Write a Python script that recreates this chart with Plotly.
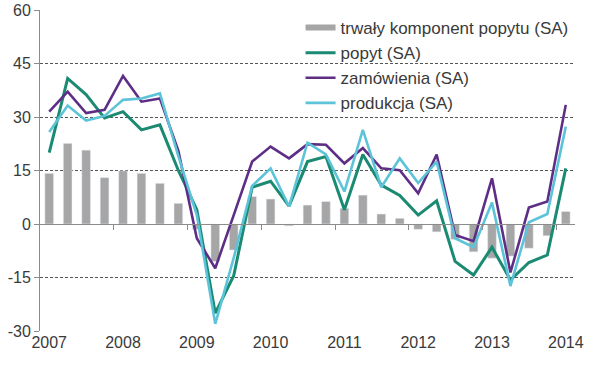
import plotly.graph_objects as go

# 2007Q1 .. 2014Q1
quarters = [f"{y} Q{q}" for y in range(2007, 2015) for q in range(1, 5)][:29]
year_tick_cats = [f"{y} Q1" for y in range(2007, 2015)]
year_labels = ["2007", "2008", "2009", "2010", "2011", "2012", "2013", "2014"]

trwaly = [14.2, 22.6, 20.7, 13.0, 14.9, 14.2, 11.4, 5.8, -1.5, -10.5, -7.3, 7.7, 7.0, -0.5,
          5.3, 6.3, 4.4, 8.1, 2.8, 1.6, -1.5, -2.2, -4.3, -7.8, -9.6, -9.0, -6.8, -3.3, 3.5]
popyt = [20.0, 40.8, 36.3, 29.7, 31.5, 26.4, 27.8, 15.0, 4.0, -25.0, -14.5, 10.3, 12.0, 5.0,
         17.5, 18.9, 4.0, 19.5, 10.9, 8.0, 2.5, 6.5, -10.5, -14.3, -6.5, -15.7, -10.8, -8.7, 15.6]
zamowienia = [31.5, 37.1, 31.1, 32.0, 41.5, 34.3, 35.2, 20.5, -4.0, -12.4, 2.5, 17.5, 21.7, 18.4,
              22.4, 22.2, 17.0, 21.3, 15.6, 15.1, 8.6, 19.5, -3.1, -4.8, 12.8, -13.6, 4.6, 6.3, 33.4]
produkcja = [25.8, 33.2, 29.0, 30.3, 34.8, 35.2, 36.6, 19.0, 2.5, -28.0, -9.5, 10.7, 15.6, 4.9,
             22.8, 19.5, 9.1, 26.4, 10.3, 18.4, 11.5, 17.5, -4.0, -6.5, 6.0, -17.4, 0.5, 2.8, 27.3]

y_ticks = [-30, -15, 0, 15, 30, 45, 60]
y_labels = ["-30", "-15", "0", "15", "30", "45", "60"]

names = ["trwały komponent popytu (SA)", "popyt (SA)", "zamówienia (SA)", "produkcja (SA)"]

C_BAR = "#a6a6a6"
C_POP = "#1b8a72"
C_ZAM = "#5e2e86"
C_PRO = "#5cc3d9"
TXT = "#3a3a3a"
FONT = "Liberation Sans, Arial, sans-serif"

n = len(quarters)
boundaries = [i - 0.5 for i in range(4, n, 4)]

fig = go.Figure()
fig.add_trace(go.Bar(x=quarters, y=trwaly, marker_color=C_BAR, width=0.47,
                     showlegend=False, name=names[0]))
# helper so that the zero-axis (with boundary tick marks) gets drawn
fig.add_trace(go.Scatter(x=[None], y=[None], xaxis="x2", showlegend=False,
                         hoverinfo="skip", mode="lines"))
# legend entry styled as Excel's thick line for the bar series
fig.add_trace(go.Scatter(x=[None], y=[None], mode="lines", name=names[0],
                         line=dict(color=C_BAR, width=6), legendgroup="a"))
fig.add_trace(go.Scatter(x=quarters, y=popyt, mode="lines", name=names[1],
                         line=dict(color=C_POP, width=3), legendgroup="b"))
fig.add_trace(go.Scatter(x=quarters, y=zamowienia, mode="lines", name=names[2],
                         line=dict(color=C_ZAM, width=2.6), legendgroup="c"))
fig.add_trace(go.Scatter(x=quarters, y=produkcja, mode="lines", name=names[3],
                         line=dict(color=C_PRO, width=2.6), legendgroup="d"))

fig.update_layout(
    width=597, height=369,
    margin=dict(l=40, r=22, t=10, b=38, autoexpand=False),
    paper_bgcolor="white", plot_bgcolor="white",
    font=dict(family=FONT, size=16, color=TXT),
    showlegend=True,
    legend=dict(x=0.487, y=1.0, xanchor="left", yanchor="top",
                bgcolor="rgba(0,0,0,0)", font=dict(size=17, color=TXT),
                tracegroupgap=0, itemwidth=30),
    xaxis=dict(type="category", categoryorder="array", categoryarray=quarters,
               range=[-0.5, n - 0.5],
               tickmode="array", tickvals=year_tick_cats, ticktext=year_labels,
               showgrid=False, showline=False, zeroline=False, ticks="",
               tickfont=dict(size=16, color=TXT)),
    xaxis2=dict(overlaying="x", anchor="free", position=1/3,
                range=[-0.5, n - 0.5], showgrid=False, zeroline=False,
                showline=True, linecolor="#8c8c8c", linewidth=1,
                ticks="outside", ticklen=5, tickcolor="#8c8c8c",
                tickmode="array", tickvals=boundaries, showticklabels=False),
    yaxis=dict(range=[-30, 60], tickmode="array", tickvals=y_ticks, ticktext=y_labels,
               showgrid=True, gridcolor="#555555", gridwidth=1, griddash="3px,2px",
               zeroline=False, showline=True, linecolor="#8c8c8c", linewidth=1,
               ticks="outside", ticklen=5, tickcolor="#8c8c8c",
               tickfont=dict(size=16, color=TXT)),
)

fig.write_html("out.html", config={"displayModeBar": False},
               post_script="document.body.style.margin='0';")
